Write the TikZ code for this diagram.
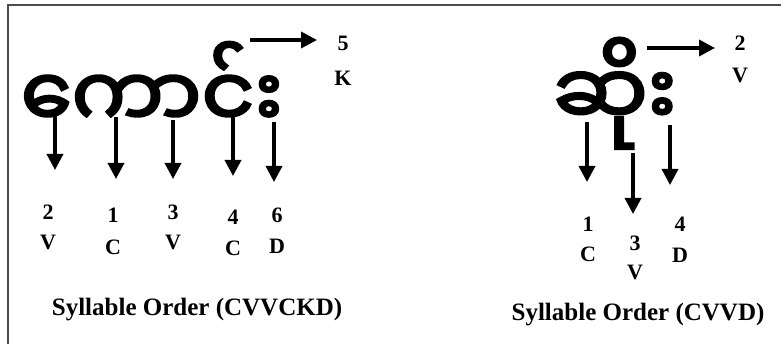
\documentclass[tikz,border=0pt]{standalone}
\usepackage{fontspec}
\setmainfont{Liberation Serif}
\newfontfamily\mmfont[Script=Myanmar,FakeBold=3]{Noto Sans Myanmar UI}
\usetikzlibrary{arrows.meta}

\begin{document}
\begin{tikzpicture}[x=1pt,y=-1pt,
    arr/.style={-{Triangle[width=16pt,length=16pt]}, line width=3.5pt},
    lbl/.style={font=\bfseries\fontsize{22}{22}\selectfont, inner sep=0pt},
    captxt/.style={font=\bfseries\fontsize{25}{25}\selectfont, inner sep=0pt},
    word/.style={font=\mmfont\fontsize{82}{82}\selectfont, inner sep=0pt}]
    \useasboundingbox (0,0) rectangle (781,344);
    %BINGKAI
    \draw[line width=1.2pt, black!70] (8,344) -- (8,5) -- (781,5);
    %KATA KIRI
    \node[word, anchor=base] (kaung) at (152,128) {ကောင်း};
    \node[lbl] (k2) at (48,212) {2};  \node[lbl] (kv1) at (48,242) {V};
    \node[lbl] (k1) at (113,215) {1}; \node[lbl] (kc1) at (113,247) {C};
    \node[lbl] (k3) at (173,212) {3}; \node[lbl] (kv2) at (173,242) {V};
    \node[lbl] (k4) at (233,217) {4}; \node[lbl] (kc2) at (233,248) {C};
    \node[lbl] (k6) at (277,215) {6}; \node[lbl] (kd) at (277,246) {D};
    \node[lbl] (k5) at (343,43) {5};  \node[lbl] (kk) at (343,78) {K};
    \node[captxt] (kcap) at (197,310) {Syllable Order (CVVCKD)};
    %PANAH KIRI
    \coordinate (ka1) at (55,112);  \coordinate (kb1) at (55,170);
    \coordinate (ka2) at (116,117); \coordinate (kb2) at (116,179);
    \coordinate (ka3) at (173,120); \coordinate (kb3) at (173,179);
    \coordinate (ka4) at (233,117); \coordinate (kb4) at (233,176);
    \coordinate (ka5) at (274,122); \coordinate (kb5) at (274,182);
    \coordinate (ka6) at (250,40);  \coordinate (kb6) at (317,40);
    \draw[arr] (ka1) -- (kb1);
    \draw[arr] (ka2) -- (kb2);
    \draw[arr] (ka3) -- (kb3);
    \draw[arr] (ka4) -- (kb4);
    \draw[arr] (ka5) -- (kb5);
    \draw[arr] (ka6) -- (kb6);
    %KATA KANAN
    \node[word, anchor=base, font=\mmfont\fontsize{84}{84}\selectfont] (hso) at (615,126) {ဆိုး};
    \node[lbl] (h2) at (740,43) {2};  \node[lbl] (hv1) at (740,75) {V};
    \node[lbl] (h1) at (588,224) {1}; \node[lbl] (hc) at (588,254) {C};
    \node[lbl] (h3) at (635,243) {3}; \node[lbl] (hv2) at (635,272) {V};
    \node[lbl] (h4) at (680,224) {4}; \node[lbl] (hd) at (680,255) {D};
    \node[captxt] (hcap) at (638,315) {Syllable Order (CVVD)};
    %PANAH KANAN
    \coordinate (ha1) at (587,122); \coordinate (hb1) at (587,182);
    \coordinate (ha2) at (633,153); \coordinate (hb2) at (633,214);
    \coordinate (ha3) at (670,125); \coordinate (hb3) at (670,185);
    \coordinate (ha4) at (647,48);  \coordinate (hb4) at (715,48);
    \draw[arr] (ha1) -- (hb1);
    \draw[arr] (ha2) -- (hb2);
    \draw[arr] (ha3) -- (hb3);
    \draw[arr] (ha4) -- (hb4);
\end{tikzpicture}
\end{document}
